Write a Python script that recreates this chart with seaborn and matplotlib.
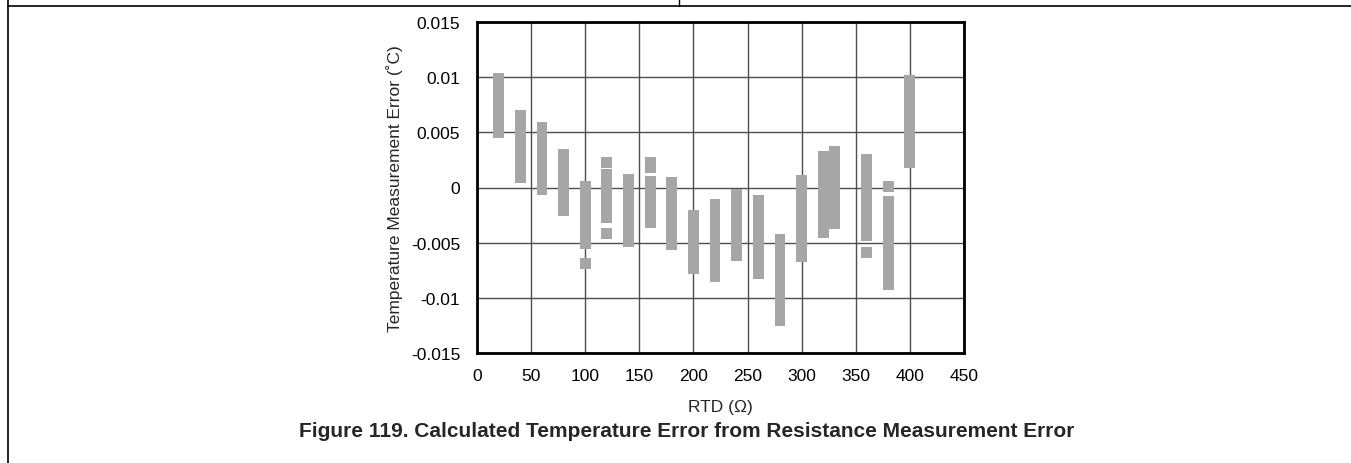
import matplotlib
matplotlib.use("Agg")
import matplotlib.pyplot as plt
from matplotlib.lines import Line2D
import seaborn as sns
import pandas as pd

# floating bar segments: RTD position, lower and upper error (deg C)
rtd = [20, 40, 60, 80, 100, 100, 120, 120, 120, 140, 160, 160, 180, 200, 220,
       240, 260, 280, 300, 320, 330, 360, 360, 380, 380, 400]
err_low = [0.00451, 0.00044, -0.00065, -0.00256, -0.00555, -0.00736, 0.00177, -0.00322, -0.00464,
           -0.00536, 0.00132, -0.00364, -0.00564, -0.00781, -0.00853,
           -0.00663, -0.00826, -0.01252, -0.00672, -0.00455, -0.00373, -0.00485, -0.00636,
           -0.00038, -0.00926, 0.00180]
err_high = [0.01038, 0.00702, 0.00594, 0.00349, 0.00059, -0.00639, 0.00276, 0.00168, -0.00367,
            0.00122, 0.00276, 0.00104, 0.00095, -0.00204, -0.00104,
            -0.00013, -0.00068, -0.00421, 0.00113, 0.00331, 0.00376, 0.00304, -0.00539,
            0.00059, -0.00077, 0.01020]

x_ticks = [0, 50, 100, 150, 200, 250, 300, 350, 400, 450]
y_ticks = [-0.015, -0.01, -0.005, 0, 0.005, 0.01, 0.015]
y_labels = ["-0.015", "-0.01", "-0.005", "0", "0.005", "0.01", "0.015"]

df = pd.DataFrame({"rtd": rtd, "low": err_low, "high": err_high})
df["span"] = df["high"] - df["low"]

sns.set_style("white")
plt.rcParams["font.family"] = ["Liberation Sans", "DejaVu Sans"]

fig = plt.figure(figsize=(13.51, 4.64), dpi=100)
ax = fig.add_axes([0.3531, 0.2371, 0.3604, 0.7133])

ax.bar(df["rtd"], df["span"], bottom=df["low"], width=10, color="#a6a6a6",
       linewidth=0, zorder=3)

ax.set_xlim(0, 450)
ax.set_ylim(-0.015, 0.015)
ax.set_xticks(x_ticks)
ax.set_xticklabels([str(t) for t in x_ticks])
ax.set_yticks(y_ticks)
ax.set_yticklabels(y_labels)
ax.tick_params(length=0, labelsize=12.5, colors="black")
ax.tick_params(axis="x", pad=10.5)
ax.tick_params(axis="y", pad=12)
ax.grid(True, color="#4d4d4d", linewidth=1, zorder=1)
ax.set_axisbelow(True)
for s in ax.spines.values():
    s.set_color("black")
    s.set_linewidth(2)
    s.set_zorder(4)

ax.set_xlabel("RTD (\u03a9)", fontsize=12.5, labelpad=12)
ax.set_ylabel("Temperature Measurement Error (\u02daC)", fontsize=12.5, labelpad=6)

fig.text(0.508, 0.071, "Figure 119. Calculated Temperature Error from Resistance Measurement Error",
         ha="center", va="center", fontsize=15, fontweight="bold")

# page frame lines
fig.add_artist(Line2D([8 / 1351, 8 / 1351], [0, 1], color="black", lw=1.2))
fig.add_artist(Line2D([8 / 1351, 1], [1 - 7 / 464, 1 - 7 / 464], color="black", lw=1.2))
fig.add_artist(Line2D([679 / 1351, 679 / 1351], [1 - 7 / 464, 1], color="black", lw=1))

fig.savefig("out.png", dpi=100)
